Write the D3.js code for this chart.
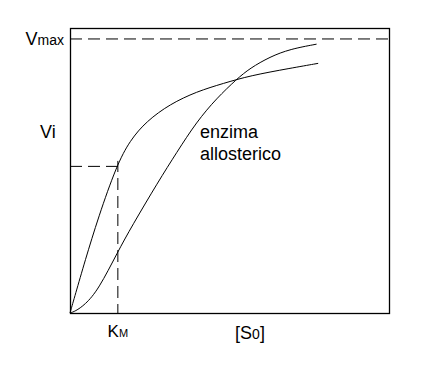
<!DOCTYPE html>
<html>
<head>
<meta charset="utf-8">
<script src="https://cdn.jsdelivr.net/npm/d3@7"></script>
<style>
  body { margin: 0; background: #fff; }
  text { font-family: "Liberation Sans", Arial, sans-serif; fill: #000; }
</style>
</head>
<body>
<div id="chart"></div>
<script>
// substrate concentration [S0] (arbitrary units) and rate Vi (fraction of Vmax)
var michaelisS = [0, 0.16, 0.47, 0.89, 1.46, 1.88, 2.40, 3.13, 3.97, 4.81, 5.64, 6.90, 7.78];
var michaelisV = [0, 0.065, 0.19, 0.35, 0.538, 0.63, 0.70, 0.762, 0.808, 0.838, 0.866, 0.893, 0.911];

var allosterS = [0, 0.16, 0.47, 0.89, 1.50, 1.93, 2.77, 3.34, 3.97, 4.60, 5.23, 5.64, 6.27, 6.90, 7.73];
var allosterV = [0, 0.006, 0.03, 0.085, 0.224, 0.315, 0.48, 0.585, 0.698, 0.784, 0.854, 0.893, 0.935, 0.963, 0.981];

var vmax = 1;
var km = 1.5;
var vAtKm = 0.535;

var svgWidth = 440, svgHeight = 370;

var svg = d3.select("#chart").append("svg")
    .attr("width", svgWidth)
    .attr("height", svgHeight);

var x = d3.scaleLinear().domain([0, 10]).range([70, 389]);
var y = d3.scaleLinear().domain([0, 1.04]).range([313, 28]);

// frame
svg.append("rect")
    .attr("x", x(0) + 0.5)
    .attr("y", y(1.04) + 0.5)
    .attr("width", x(10) - x(0))
    .attr("height", y(0) - y(1.04))
    .attr("fill", "none")
    .attr("stroke", "#000")
    .attr("stroke-width", 1.3);

// dashed guides
var dash = "12,6";
svg.append("line")
    .attr("x1", x(0)).attr("x2", x(10))
    .attr("y1", y(vmax)).attr("y2", y(vmax))
    .attr("stroke", "#000").attr("stroke-dasharray", dash);

svg.append("line")
    .attr("x1", x(0)).attr("x2", x(km + 0.12))
    .attr("y1", y(vAtKm)).attr("y2", y(vAtKm))
    .attr("stroke", "#000").attr("stroke-dasharray", dash);

svg.append("line")
    .attr("x1", x(km)).attr("x2", x(km))
    .attr("y1", y(0)).attr("y2", y(vAtKm + 0.02))
    .attr("stroke", "#000").attr("stroke-dasharray", dash)
    .attr("stroke-dashoffset", 3);

// curves
var line = d3.line()
    .x(d => x(d[0]))
    .y(d => y(d[1]))
    .curve(d3.curveBasis);

svg.append("path")
    .attr("d", line(d3.zip(michaelisS, michaelisV)))
    .attr("fill", "none")
    .attr("stroke", "#000")
    .attr("stroke-width", 1);

svg.append("path")
    .attr("d", line(d3.zip(allosterS, allosterV)))
    .attr("fill", "none")
    .attr("stroke", "#000")
    .attr("stroke-width", 1);

// labels
var vm = svg.append("text")
    .attr("x", 64).attr("y", y(vmax) + 6)
    .attr("text-anchor", "end")
    .style("font-size", "18px");
vm.append("tspan").text("V");
vm.append("tspan").style("font-size", "14px").text("max");

svg.append("text")
    .attr("x", 40).attr("y", 138)
    .style("font-size", "18px")
    .text("Vi");

var kmLabel = svg.append("text")
    .attr("x", x(km)).attr("y", 337)
    .attr("text-anchor", "middle")
    .style("font-size", "17px");
kmLabel.append("tspan").text("K");
kmLabel.append("tspan").style("font-size", "11px").text("M");

var sLabel = svg.append("text")
    .attr("x", 250).attr("y", 339)
    .attr("text-anchor", "middle")
    .style("font-size", "18px");
sLabel.append("tspan").text("[S");
sLabel.append("tspan").style("font-size", "14px").text("0");
sLabel.append("tspan").text("]");

svg.append("text")
    .attr("x", 200).attr("y", 138)
    .style("font-size", "18px")
    .text("enzima");
svg.append("text")
    .attr("x", 200).attr("y", 160)
    .style("font-size", "18px")
    .text("allosterico");
</script>
</body>
</html>
